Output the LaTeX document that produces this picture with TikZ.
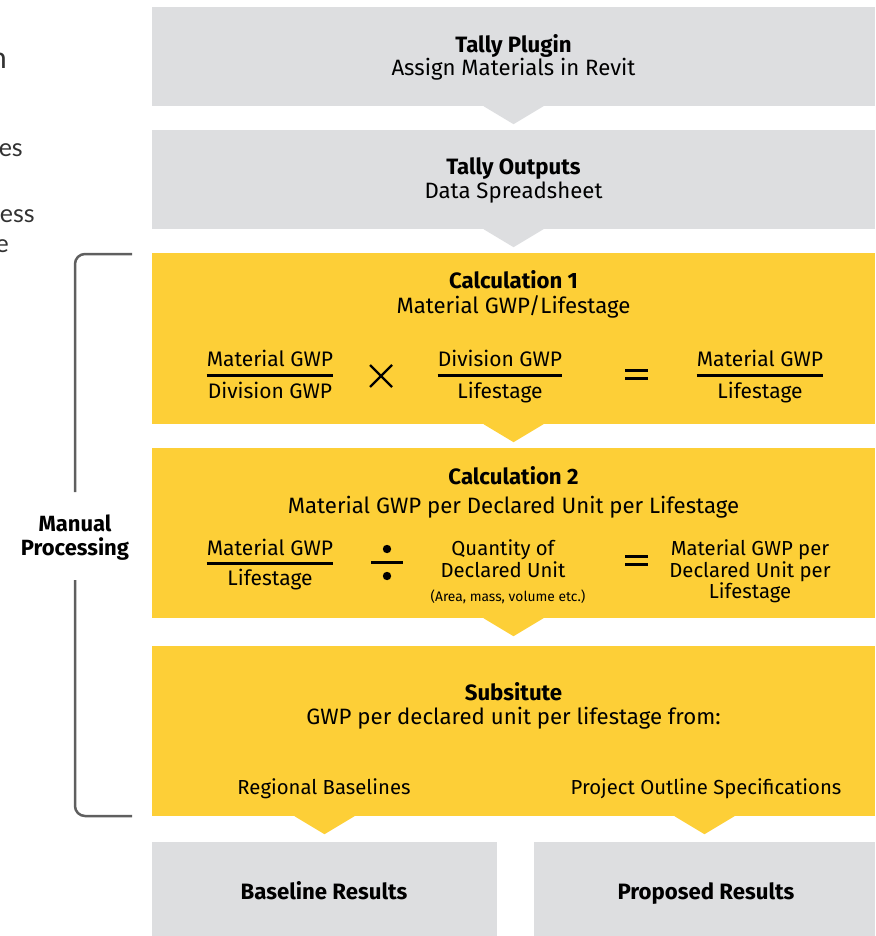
\documentclass[tikz,border=0pt]{standalone}
\usepackage{fontspec}
\setmainfont{Fira Sans}
\newfontfamily\labelfont{Lato}
\usetikzlibrary{calc}
\definecolor{boxgray}{RGB}{221,222,224}
\definecolor{boxyellow}{RGB}{253,207,55}
\definecolor{bracketgray}{RGB}{95,95,95}
\definecolor{sidetext}{RGB}{50,50,50}
\newcommand\mytri[2]{\fill[#2] ($(#1)+(-30,0)$) -- ($(#1)+(30,0)$) -- ($(#1)+(0,18)$) -- cycle;}
\begin{document}
\begin{tikzpicture}[x=1pt,y=-1pt,
  box/.style={draw=none, inner sep=0, minimum width=723},
  gbox/.style={box, fill=boxgray},
  ybox/.style={box, fill=boxyellow},
  txt/.style={anchor=base, inner sep=0, font=\fontsize{22.2}{26}\selectfont},
  btxt/.style={txt, font=\fontsize{22.2}{26}\selectfont\bfseries},
  ftxt/.style={anchor=base, inner sep=0, font=\fontsize{21}{25}\selectfont},
  ntxt/.style={anchor=base, inner sep=0, font=\fontsize{20.3}{24}\selectfont},
  smalltxt/.style={anchor=base, inner sep=0, font=\fontsize{13.8}{16}\selectfont},
  fracbar/.style={line width=3},
  opline/.style={line width=2.4, line cap=butt},
  bracket/.style={draw=bracketgray, line width=2.5, rounded corners=10},
  side/.style={anchor=base east, inner sep=0, text=sidetext, font=\labelfont\fontsize{25}{29}\selectfont}
]
\path[use as bounding box] (0,0) rectangle (875,936);

% left side cut-off text
\node[side, font=\labelfont\fontsize{30}{34}\selectfont] (s0) at (7,69) {n};
\node[side] (s1) at (23,157) {es};
\node[side] (s2) at (35,222) {ess};
\node[side] (s3) at (9,252) {e};

% boxes
\node[gbox, minimum height=99] (b1) at (513.5,56.5) {};
\node[gbox, minimum height=99] (b2) at (513.5,179.5) {};
\node[ybox, minimum height=171] (b3) at (513.5,338.5) {};
\node[ybox, minimum height=170] (b4) at (513.5,533) {};
\node[ybox, minimum height=170] (b5) at (513.5,731) {};
\node[gbox, minimum width=345, minimum height=96] (b6) at (324.5,890) {};
\node[gbox, minimum width=341, minimum height=96] (b7) at (704.5,890) {};

% pointers
\mytri{b1.south}{boxgray}
\mytri{b2.south}{boxgray}
\mytri{b3.south}{boxyellow}
\mytri{b4.south}{boxyellow}
\mytri{b6.north |- b5.south}{boxyellow}
\mytri{b7.north |- b5.south}{boxyellow}

% box 1, 2
\node[btxt] (t1a) at (513.5,53) {Tally Plugin};
\node[txt] (t1b) at (513.5,76) {Assign Materials in Revit};
\node[btxt] (t2a) at (513.5,175) {Tally Outputs};
\node[txt] (t2b) at (513.5,198) {Data Spreadsheet};

% calculation 1
\node[btxt] (c1a) at (513.5,288) {Calculation 1};
\node[txt] (c1b) at (513.5,313) {Material GWP/Lifestage};
\node[ftxt] (f1n) at (270,366) {Material GWP};
\node[ftxt] (f1d) at (270,398) {Division GWP};
\draw[fracbar] (f1n.west |- 0,375) -- (f1n.east |- 0,375);
\coordinate (m1) at (381,376);
\draw[opline, line width=2.2] ($(m1)+(-11,-11)$) -- ($(m1)+(11,11)$)
  ($(m1)+(-11,11)$) -- ($(m1)+(11,-11)$);
\node[ftxt] (f2n) at (500,366) {Division GWP};
\node[ftxt] (f2d) at (500,398) {Lifestage};
\draw[fracbar] (f2n.west |- 0,375) -- (f2n.east |- 0,375);
\coordinate (e1) at (636.5,374);
\draw[opline, line width=3] ($(e1)+(-11.5,-4)$) -- ($(e1)+(11.5,-4)$)
  ($(e1)+(-11.5,4)$) -- ($(e1)+(11.5,4)$);
\node[ftxt] (f3n) at (760,366) {Material GWP};
\node[ftxt] (f3d) at (760,398) {Lifestage};
\draw[fracbar] (f3n.west |- 0,375) -- (f3n.east |- 0,375);

% calculation 2
\node[btxt] (c2a) at (513.5,484) {Calculation 2};
\node[txt] (c2b) at (513.5,513) {Material GWP per Declared Unit per Lifestage};
\node[ftxt] (g1n) at (270,555) {Material GWP};
\node[ftxt] (g1d) at (270,585) {Lifestage};
\draw[fracbar] (g1n.west |- 0,563) -- (g1n.east |- 0,563);
\coordinate (d1) at (387,562.5);
\draw[opline, line width=2.6] ($(d1)+(-16,0)$) -- ($(d1)+(16,0)$);
\fill ($(d1)+(0,-13.5)$) circle[radius=4.2] ($(d1)+(0,13.5)$) circle[radius=4.2];
\node[ntxt] (q1) at (503,555) {Quantity of};
\node[ntxt] (q2) at (503,577) {Declared Unit};
\node[smalltxt] (q3) at (508,601) {(Area, mass, volume etc.)};
\coordinate (e2) at (636.5,560);
\draw[opline, line width=3] ($(e2)+(-11.5,-4)$) -- ($(e2)+(11.5,-4)$)
  ($(e2)+(-11.5,4)$) -- ($(e2)+(11.5,4)$);
\node[ntxt] (r1) at (750,555) {Material GWP per};
\node[ntxt] (r2) at (750,577) {Declared Unit per};
\node[ntxt] (r3) at (750,598) {Lifestage};

% substitute
\node[btxt] (s5a) at (513.5,700) {Subsitute};
\node[txt] (s5b) at (513.5,724) {GWP per declared unit per lifestage from:};
\node[ntxt] (reg) at (324,794) {Regional Baselines};
\node[ntxt] (pos) at (706,794) {Project Outline Specifications};

% results
\node[btxt] (res1) at (324,899) {Baseline Results};
\node[btxt] (res2) at (706,899) {Proposed Results};

% bracket
\node[align=center, inner sep=0, font=\fontsize{22}{24}\selectfont\bfseries] (mp) at (75,538) {Manual\\Processing};
\coordinate (bt) at (132,254);
\coordinate (bb) at (132,816);
\coordinate (gt) at (75,492);
\coordinate (gb) at (75,580);
\draw[bracket] (bt) -- (gt |- bt) -- (gt);
\draw[bracket] (gb) -- (gb |- bb) -- (bb);
\end{tikzpicture}
\end{document}
